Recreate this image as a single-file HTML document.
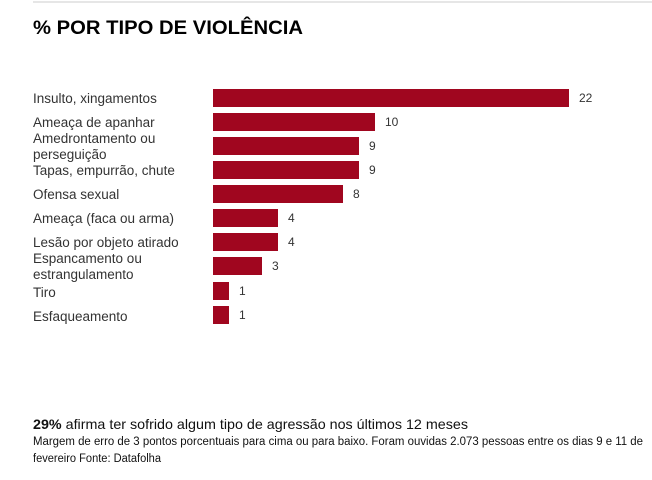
<!DOCTYPE html>
<html><head><meta charset="utf-8"><style>
html,body{margin:0;padding:0;background:#fff;}
svg{display:block;font-family:"Liberation Sans",Arial,sans-serif;}
</style></head><body>
<svg width="652" height="480" viewBox="0 0 652 480" xmlns="http://www.w3.org/2000/svg">
<rect x="33" y="1" width="619" height="2" fill="#e6e6e6"/>
<text x="33" y="34" font-size="19" font-weight="bold" fill="#000" textLength="270" lengthAdjust="spacingAndGlyphs">% POR TIPO DE VIOLÊNCIA</text>
<g fill="#a0061f">
<rect x="213" y="89" width="356" height="18"/>
<rect x="213" y="113" width="162" height="18"/>
<rect x="213" y="137" width="146" height="18"/>
<rect x="213" y="161" width="146" height="18"/>
<rect x="213" y="185" width="130" height="18"/>
<rect x="213" y="209" width="65" height="18"/>
<rect x="213" y="233" width="65" height="18"/>
<rect x="213" y="257" width="49" height="18"/>
<rect x="213" y="282" width="16" height="18"/>
<rect x="213" y="306" width="16" height="18"/>
</g>
<g font-size="12" fill="#333">
<text x="579" y="102">22</text>
<text x="385" y="126">10</text>
<text x="369" y="150">9</text>
<text x="369" y="174">9</text>
<text x="353" y="198">8</text>
<text x="288" y="222">4</text>
<text x="288" y="246">4</text>
<text x="272" y="270">3</text>
<text x="239" y="295">1</text>
<text x="239" y="319">1</text>
</g>
<g font-size="13.5" fill="#333">
<text x="33" y="103">Insulto, xingamentos</text>
<text x="33" y="127">Ameaça de apanhar</text>
<text x="33" y="143">Amedrontamento ou</text>
<text x="33" y="159">perseguição</text>
<text x="33" y="175">Tapas, empurrão, chute</text>
<text x="33" y="199">Ofensa sexual</text>
<text x="33" y="223">Ameaça (faca ou arma)</text>
<text x="33" y="247">Lesão por objeto atirado</text>
<text x="33" y="263">Espancamento ou</text>
<text x="33" y="279">estrangulamento</text>
<text x="33" y="297">Tiro</text>
<text x="33" y="321">Esfaqueamento</text>
</g>
<text x="33" y="429" font-size="14" fill="#111" textLength="435" lengthAdjust="spacingAndGlyphs"><tspan font-weight="bold">29%</tspan> afirma ter sofrido algum tipo de agressão nos últimos 12 meses</text>
<text x="33" y="445" font-size="11.5" fill="#111" textLength="610" lengthAdjust="spacingAndGlyphs">Margem de erro de 3 pontos porcentuais para cima ou para baixo. Foram ouvidas 2.073 pessoas entre os dias 9 e 11 de</text>
<text x="33" y="462" font-size="11.5" fill="#111" textLength="128" lengthAdjust="spacingAndGlyphs">fevereiro Fonte: Datafolha</text>
</svg>
</body></html>
